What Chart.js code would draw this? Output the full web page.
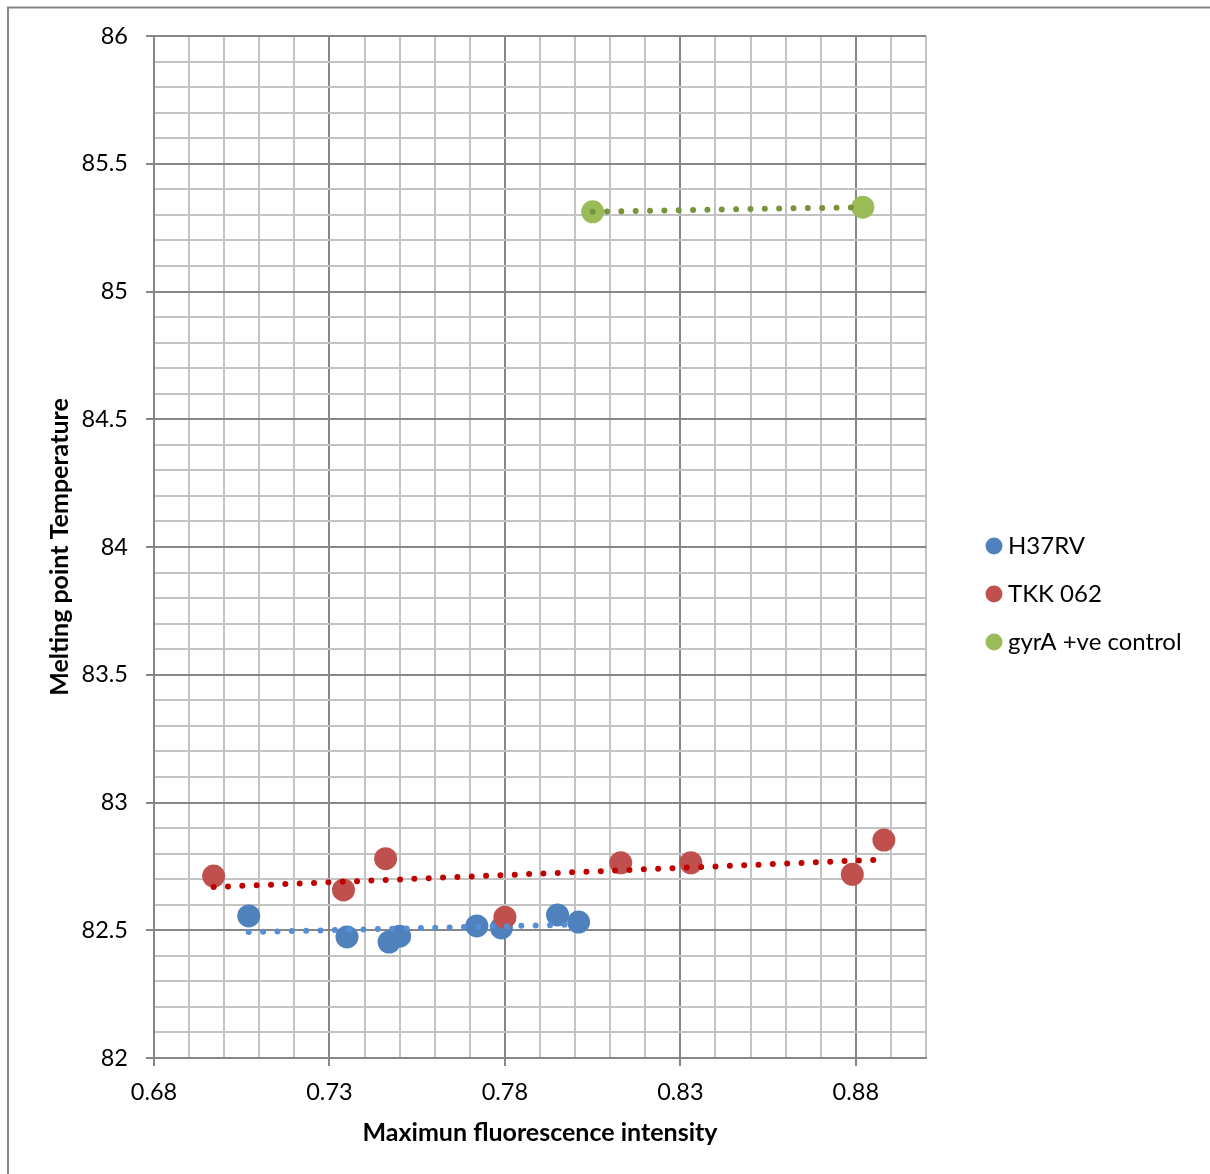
<!DOCTYPE html>
<html>
<head>
<meta charset="utf-8">
<title>Melting point vs maximum fluorescence</title>
<script src="https://cdn.jsdelivr.net/npm/chart.js@4.4.1/dist/chart.umd.min.js"></script>
<style>
  html, body { margin: 0; padding: 0; background: #ffffff; }
  canvas { display: block; }
</style>
</head>
<body>
<canvas id="chart" width="1210" height="1174"></canvas>
<script>
// ---- data -------------------------------------------------------------
const seriesNames = ['H37RV', 'TKK 062', 'gyrA +ve control'];

const h37rvX = [0.707, 0.735, 0.747, 0.750, 0.772, 0.779, 0.795, 0.801];
const h37rvY = [82.556, 82.474, 82.454, 82.477, 82.517, 82.509, 82.560, 82.532];

const tkkX = [0.697, 0.734, 0.746, 0.780, 0.813, 0.833, 0.879, 0.888];
const tkkY = [82.712, 82.658, 82.780, 82.551, 82.764, 82.764, 82.719, 82.853];

const gyraX = [0.805, 0.882];
const gyraY = [85.312, 85.330];

// axis ranges and labelled ticks (every fifth grid line carries a label)
const xTickLabels = ['0.68', '0.73', '0.78', '0.83', '0.88'];
const yTickLabels = ['82', '82.5', '83', '83.5', '84', '84.5', '85', '85.5', '86'];
const xRange = [0.68, 0.90];
const yRange = [82, 86];

// ---- styling ----------------------------------------------------------
const FONT = 'Lato, "Open Sans", "DejaVu Sans", sans-serif';
const markerColors = ['#4F81BD', '#C0504D', '#9BBB59'];
const trendColors = ['#558ED5', '#C00000', '#77933C'];
const MAJOR_GRID = '#878787';
const MINOR_GRID = '#c3c3c3';

Chart.defaults.font.family = FONT;
Chart.defaults.color = '#000000';

// least-squares trend line across the x extent of a series
function trendLine(xs, ys) {
  const n = xs.length;
  const mx = xs.reduce((a, b) => a + b, 0) / n;
  const my = ys.reduce((a, b) => a + b, 0) / n;
  let sxy = 0, sxx = 0;
  for (let i = 0; i < n; i++) {
    sxy += (xs[i] - mx) * (ys[i] - my);
    sxx += (xs[i] - mx) * (xs[i] - mx);
  }
  const slope = sxx ? sxy / sxx : 0;
  const x0 = Math.min(...xs), x1 = Math.max(...xs);
  return [
    { x: x0, y: my + slope * (x0 - mx) },
    { x: x1, y: my + slope * (x1 - mx) }
  ];
}

const toPoints = (xs, ys) => xs.map((x, i) => ({ x, y: ys[i] }));
const seriesX = [h37rvX, tkkX, gyraX];
const seriesY = [h37rvY, tkkY, gyraY];

const markerSets = seriesNames.map((name, i) => ({
  label: name,
  data: toPoints(seriesX[i], seriesY[i]),
  backgroundColor: markerColors[i],
  borderColor: markerColors[i],
  pointBackgroundColor: markerColors[i],
  pointBorderColor: markerColors[i],
  pointBorderWidth: 0,
  pointRadius: 11.5,
  pointHoverRadius: 11.5,
  pointStyle: 'circle',
  showLine: false,
  order: 6 - i
}));

const trendSets = seriesNames.map((name, i) => ({
  label: name + ' trend',
  data: trendLine(seriesX[i], seriesY[i]),
  showLine: true,
  borderColor: trendColors[i],
  backgroundColor: trendColors[i],
  borderWidth: 6,
  borderDash: [0, 14.35],
  borderCapStyle: 'round',
  pointRadius: 0,
  pointHoverRadius: 0,
  fill: false,
  order: 3 - i
}));

// ---- layout helpers ---------------------------------------------------
const PLOT = { left: 154, right: 926, top: 36, bottom: 1058 };
const CANVAS_W = 1210, CANVAS_H = 1174;
const LEGEND_FONT = 24;
const LEGEND_PAD = 24;
const LEGEND_LEFT = 968;
const LEGEND_FIRST_ROW = 546;
const TITLE_FONT = 25;

// white page with the chart frame (top and left edges)
const framePlugin = {
  id: 'frame',
  beforeDraw(chart) {
    const c = chart.ctx;
    c.save();
    c.fillStyle = '#ffffff';
    c.fillRect(0, 0, chart.width, chart.height);
    c.strokeStyle = '#878787';
    c.lineWidth = 2;
    c.beginPath();
    c.moveTo(8, CANVAS_H);
    c.lineTo(8, 7.5);
    c.lineTo(CANVAS_W, 7.5);
    c.stroke();
    c.restore();
  }
};

// legend occupies the strip right of the plot; rows start at a fixed height
const legendPlacer = {
  id: 'legendPlacer',
  afterInit(chart) {
    const lg = chart.legend;
    const baseFit = lg.fit;
    lg.fit = function () {
      baseFit.call(this);
      this.width = CANVAS_W - PLOT.right;
    };
  },
  afterLayout(chart) {
    const lg = chart.legend;
    const h = lg.bottom - lg.top;
    lg.left = LEGEND_LEFT;
    lg.right = CANVAS_W;
    lg.top = LEGEND_FIRST_ROW - LEGEND_PAD - LEGEND_FONT / 2;
    lg.bottom = lg.top + h;
  }
};

const isMajor = (ctx) => ctx.index % 5 === 0;

new Chart(document.getElementById('chart'), {
  type: 'scatter',
  data: { datasets: [...markerSets, ...trendSets] },
  options: {
    responsive: false,
    animation: false,
    events: [],
    layout: { padding: { left: 0, right: 0, top: PLOT.top, bottom: 22 } },
    plugins: {
      tooltip: { enabled: false },
      legend: {
        position: 'right',
        align: 'start',
        labels: {
          usePointStyle: true,
          pointStyle: 'circle',
          boxWidth: 4,
          boxHeight: 12,
          padding: LEGEND_PAD,
          color: '#000000',
          font: { family: FONT, size: LEGEND_FONT },
          filter: (item) => item.datasetIndex < seriesNames.length,
          sort: (a, b) => a.datasetIndex - b.datasetIndex
        }
      }
    },
    scales: {
      x: {
        type: 'linear',
        min: xRange[0],
        max: xRange[1],
        ticks: {
          stepSize: 0.01,
          autoSkip: false,
          maxRotation: 0,
          minRotation: 0,
          padding: 12.5,
          color: '#000000',
          font: { family: FONT, size: 23.5 },
          callback: (v, i) => (i % 5 === 0 ? xTickLabels[i / 5] : '')
        },
        grid: {
          color: (ctx) => (isMajor(ctx) ? MAJOR_GRID : MINOR_GRID),
          lineWidth: 2,
          drawTicks: true,
          tickLength: 8,
          tickWidth: 2,
          tickColor: (ctx) => (isMajor(ctx) ? MAJOR_GRID : 'rgba(0,0,0,0)')
        },
        border: { display: true, color: MAJOR_GRID, width: 2 },
        title: {
          display: true,
          text: 'Maximun fluorescence intensity',
          color: '#000000',
          font: { family: FONT, size: TITLE_FONT, weight: 'bold', lineHeight: 1.2 },
          padding: { top: 0, bottom: 4 }
        },
        afterFit: (scale) => { scale.height = CANVAS_H - 22 - PLOT.bottom; }
      },
      y: {
        type: 'linear',
        min: yRange[0],
        max: yRange[1],
        ticks: {
          stepSize: 0.1,
          autoSkip: false,
          padding: 18,
          color: '#000000',
          font: { family: FONT, size: 23.5 },
          callback: (v, i) => (i % 5 === 0 ? yTickLabels[i / 5] : '')
        },
        grid: {
          color: (ctx) => (isMajor(ctx) ? MAJOR_GRID : MINOR_GRID),
          lineWidth: 2,
          drawTicks: true,
          tickLength: 8,
          tickWidth: 2,
          tickColor: (ctx) => (isMajor(ctx) ? MAJOR_GRID : 'rgba(0,0,0,0)')
        },
        border: { display: true, color: MAJOR_GRID, width: 2 },
        title: {
          display: true,
          text: 'Melting point Temperature',
          color: '#000000',
          font: { family: FONT, size: TITLE_FONT, weight: 'bold', lineHeight: 1.2 },
          padding: { top: 45, bottom: 0 }
        },
        afterFit: (scale) => { scale.width = PLOT.left; }
      }
    }
  },
  plugins: [framePlugin, legendPlacer]
});
</script>
</body>
</html>
